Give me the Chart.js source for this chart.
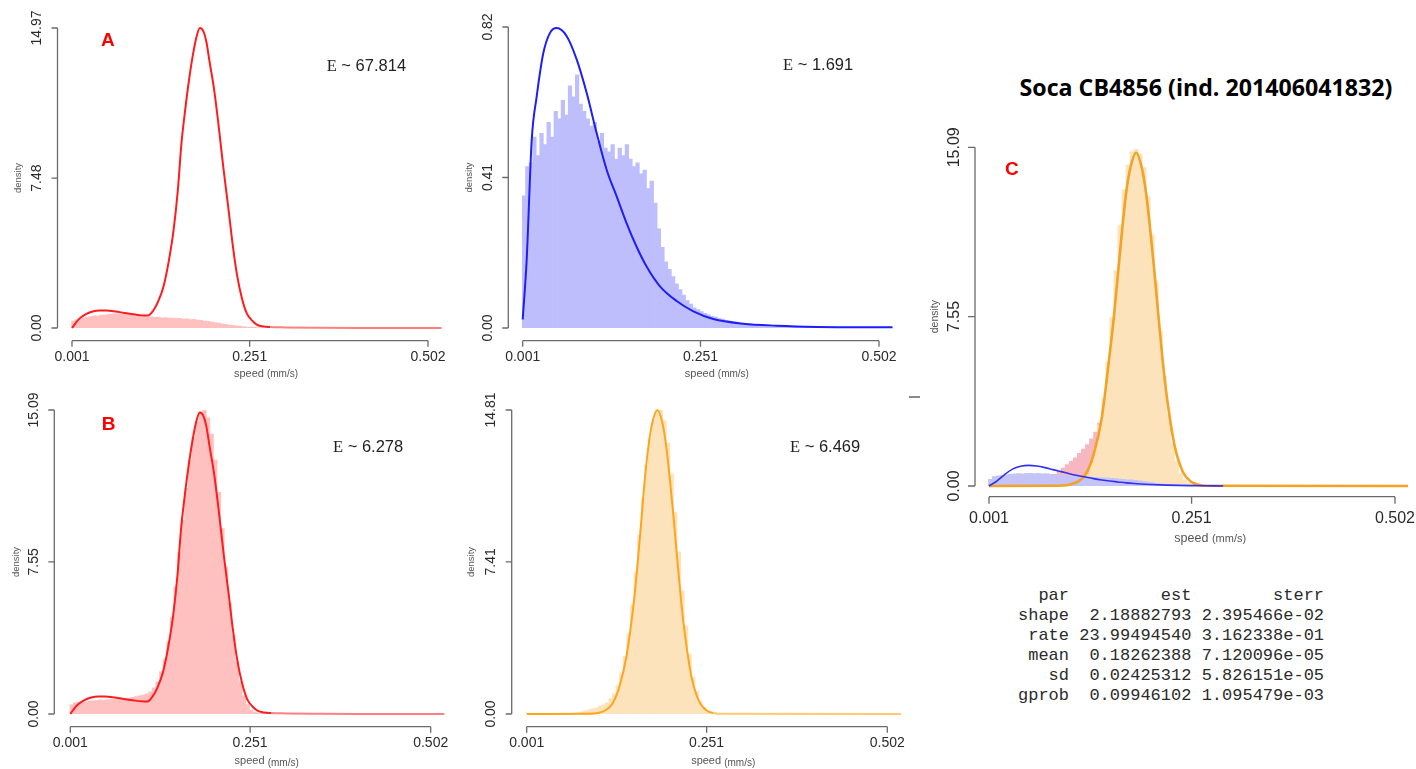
<!DOCTYPE html>
<html><head><meta charset="utf-8">
<script src="https://cdn.jsdelivr.net/npm/chart.js@4/dist/chart.umd.min.js"></script>
<style>
html,body{margin:0;padding:0;background:#fff}
body{width:1416px;height:769px;position:relative;overflow:hidden;font-family:"Liberation Sans",Arial,sans-serif}
canvas{position:absolute;left:0;top:0}
.lbl{position:absolute;color:#f00;font:bold 19px/19px "Liberation Sans",Arial,sans-serif}
.est{position:absolute;font:16.5px/16.5px "Liberation Sans",Arial,sans-serif;color:#222;white-space:nowrap}
.est .e{font-family:"Liberation Serif",serif}
#title{position:absolute;font:bold 23.2px/23px "Open Sans",sans-serif;color:#000;white-space:nowrap;transform:translateX(-50%)}
#tbl{position:absolute;left:1018px;top:586px;margin:0;font:17px/20px "Liberation Mono",monospace;color:#2b2b2b}
#dash{position:absolute;left:909px;top:396px;width:11px;height:0;border-top:2px solid #8a8a8a;z-index:5}
</style></head>
<body>
<div id="title">Soca CB4856 (ind. 201406041832)</div>
<pre id="tbl"></pre>
<div id="dash"></div>
<script>
// ---------------- data ----------------
const binWidth = 0.005;
const xTickValues = [0.001, 0.251, 0.502];
const xTickLabels = ['0.001', '0.251', '0.502'];

const yTicksA = [0, 7.48, 14.97];  const yLabelsA = ['0.00', '7.48', '14.97'];
const yTicksBlue = [0, 0.41, 0.82]; const yLabelsBlue = ['0.00', '0.41', '0.82'];
const yTicksB = [0, 7.55, 15.09];  const yLabelsB = ['0.00', '7.55', '15.09'];
const yTicksOr = [0, 7.41, 14.81]; const yLabelsOr = ['0.00', '7.41', '14.81'];
const yTicksC = [0, 7.55, 15.09];  const yLabelsC = ['0.00', '7.55', '15.09'];

const estLabels = ['67.814', '1.691', '6.278', '6.469'];
const panelLetters = ['A', 'B', 'C'];

// fitted mixture curve (red, panels A and B)
const redX = [0.001,0.01,0.02,0.03,0.04,0.05,0.06,0.07,0.08,0.09,0.10,0.108,0.115,0.122,0.13,0.137,0.144,0.15,0.155,0.16,0.165,0.171,0.176,0.181,0.186,0.19,0.195,0.201,0.207,0.214,0.221,0.227,0.233,0.24,0.247,0.255,0.262,0.27,0.28,0.30,0.35,0.40,0.45,0.50,0.521];
const redY = [0,0.42,0.68,0.82,0.87,0.87,0.83,0.78,0.72,0.67,0.63,0.62,0.85,1.3,2.1,3.3,4.9,6.9,9.2,10.8,12.2,13.6,14.5,14.97,14.8,14.3,13.2,11.9,10.2,8.0,6.0,4.2,2.7,1.5,0.73,0.35,0.15,0.08,0.05,0.03,0.01,0,0,0,0];

// gamma curve (blue, top-right panel)
const blueX = [0.001,0.0066,0.0137,0.0207,0.030,0.0394,0.0488,0.0629,0.077,0.091,0.105,0.119,0.133,0.147,0.161,0.175,0.194,0.218,0.241,0.269,0.311,0.358,0.415,0.47,0.521];
const blueY = [0.023,0.186,0.513,0.631,0.749,0.804,0.817,0.795,0.731,0.640,0.531,0.431,0.359,0.286,0.222,0.168,0.1135,0.0727,0.0454,0.0245,0.0118,0.0064,0.003,0.002,0.002];

// gaussian curve (orange, bottom-middle panel)
const orX = [0.001,0.09,0.10,0.11,0.12,0.13,0.14,0.15,0.155,0.16,0.165,0.17,0.175,0.1826,0.19,0.195,0.20,0.205,0.21,0.215,0.22,0.23,0.24,0.25,0.26,0.27,0.521];
const orY = [0,0.01,0.05,0.17,0.5,1.35,2.9,5.5,7.3,9.3,11.4,13.0,14.1,14.81,14.1,13.0,11.4,9.6,7.6,5.7,4.1,1.8,0.65,0.2,0.05,0.01,0];

// panel C curves
const cOrX = [0.001,0.08,0.10,0.11,0.12,0.13,0.14,0.15,0.155,0.16,0.165,0.17,0.175,0.1826,0.19,0.195,0.20,0.205,0.21,0.215,0.22,0.23,0.24,0.25,0.26,0.27,0.518];
const cOrY = [0,0.01,0.06,0.18,0.5,1.4,3.0,5.9,7.5,9.4,11.3,13.0,14.1,14.85,14.1,13.0,11.4,9.6,7.6,5.7,4.1,1.8,0.65,0.2,0.05,0.01,0];
const cBlueX = [0.001,0.01,0.02,0.03,0.04,0.05,0.06,0.07,0.08,0.09,0.10,0.11,0.12,0.13,0.14,0.15,0.16,0.17,0.18,0.20,0.22,0.25,0.28,0.29];
const cBlueY = [0,0.2,0.5,0.75,0.88,0.92,0.89,0.82,0.73,0.64,0.55,0.47,0.4,0.33,0.27,0.22,0.18,0.14,0.11,0.07,0.04,0.015,0.005,0];

// histograms (bin i covers [i*binWidth, (i+1)*binWidth))
const histA = [0.35,0.42,0.45,0.49,0.55,0.57,0.61,0.6,0.65,0.64,0.68,0.7,0.72,0.69,0.71,0.67,0.66,0.63,0.62,0.6,0.59,0.55,0.56,0.53,0.54,0.51,0.52,0.49,0.5,0.47,0.48,0.45,0.46,0.42,0.43,0.39,0.38,0.35,0.33,0.3,0.27,0.24,0.21,0.18,0.15,0.13,0.11,0.09,0.07,0.05,0.04,0.03,0.02,0.01];
const histBlue = [0.36,0.44,0.45,0.52,0.47,0.53,0.50,0.56,0.52,0.59,0.57,0.62,0.58,0.66,0.63,0.69,0.61,0.59,0.57,0.55,0.56,0.51,0.53,0.49,0.48,0.50,0.46,0.49,0.47,0.50,0.46,0.44,0.45,0.42,0.43,0.38,0.40,0.34,0.27,0.22,0.18,0.16,0.14,0.12,0.105,0.09,0.075,0.065,0.055,0.05,0.045,0.04,0.036,0.032,0.03,0.026,0.024,0.021,0.019,0.017,0.016,0.014,0.013,0.012,0.011,0.010,0.009,0.009,0.008,0.008,0.007,0.007,0.006,0.006,0.005,0.005,0.005,0.004,0.004,0.004,0.003,0.003,0.003,0.002,0.003,0.002,0.002,0.003,0.002,0.002,0.002,0.002,0.001,0.002,0.002,0.001,0.002,0.001,0.001,0.002,0.001,0.001,0.001,0.001];
const histB = [0.45,0.55,0.58,0.6,0.61,0.63,0.65,0.66,0.7,0.69,0.71,0.72,0.73,0.74,0.75,0.77,0.79,0.83,0.86,0.9,0.94,1.0,1.1,1.3,1.6,2.1,2.7,3.6,4.8,6.3,8.0,9.6,11.2,12.6,13.7,14.5,15.0,15.09,14.7,13.9,12.6,11.0,9.2,7.3,5.5,3.9,2.6,1.6,0.9,0.45,0.2,0.1,0.05,0.03,0.02];
const histOr = [0,0,0,0,0,0,0,0,0,0,0,0,0.02,0.04,0.06,0.1,0.15,0.2,0.25,0.3,0.38,0.45,0.55,0.75,1.0,1.4,2.0,2.8,3.9,5.3,6.9,8.7,10.5,12.1,13.4,14.3,14.8,14.81,14.3,13.2,11.7,9.8,7.9,6.0,4.3,2.9,1.8,1.1,0.6,0.3,0.15,0.08,0.04,0.02];
const histCPink = [0.3,0.4,0.42,0.44,0.45,0.46,0.47,0.48,0.48,0.49,0.5,0.5,0.5,0.5,0.5,0.5,0.52,0.65,0.8,0.95,1.1,1.25,1.45,1.65,1.85,2.1,2.4,2.8,3.3,4.0];
const histCOrange = [0,0,0,0,0,0,0,0,0,0,0,0,0,0,0,0,0,0,0,0,0,0,0.05,0.2,0.5,1.0,1.7,2.7,3.9,5.5,7.5,9.6,11.6,13.2,14.3,14.9,15.0,14.8,14.2,12.9,11.2,9.1,6.9,4.9,3.2,1.9,1.1,0.55,0.28,0.13,0.06,0.03];
const histCBlue = [0.3,0.42,0.45,0.48,0.5,0.52,0.54,0.55,0.54,0.56,0.57,0.55,0.56,0.54,0.55,0.52,0.5,0.48,0.47,0.45,0.44,0.43,0.42,0.4,0.4,0.38,0.38,0.36,0.36,0.35,0.34,0.33,0.31,0.3,0.28,0.27,0.25,0.23,0.2,0.18,0.15,0.12,0.1,0.08,0.06,0.05,0.04,0.03,0.02,0.015,0.01];

const tableHead = ['par', 'est', 'sterr'];
const tableNames = ['shape', 'rate', 'mean', 'sd', 'gprob'];
const tableEst = ['2.18882793', '23.99494540', '0.18262388', '0.02425312', '0.09946102'];
const tableSterr = ['2.395466e-02', '3.162338e-01', '7.120096e-05', '5.826151e-05', '1.095479e-03'];

// ---------------- helpers ----------------
const W = 1416, H = 769, XMAX = 0.525;

function hist(values, color, order) {
  return {
    type: 'bar',
    data: values.map((v, i) => ({x: +((i + 0.5) * binWidth).toFixed(5), y: v})),
    backgroundColor: color, borderWidth: 0, barPercentage: 1, categoryPercentage: 1,
    grouped: false, order: order
  };
}
function curve(xs, ys, color, width, order, light) {
  const ds = {
    type: 'line', data: xs.map((x, i) => ({x: x, y: ys[i]})),
    borderColor: color, borderWidth: width, pointRadius: 0, fill: false,
    cubicInterpolationMode: 'monotone', clip: false, order: order
  };
  if (light) {
    ds.segment = {borderColor: c => (c.p0.parsed.y < 0.06 && c.p1.parsed.y < 0.06 && c.p0.parsed.x > 0.24) ? light : undefined};
  }
  return ds;
}

const rAxes = {
  id: 'rAxes',
  afterDraw(chart, args, o) {
    const ctx = chart.ctx, xs = chart.scales.x, ys = chart.scales.y;
    ctx.save();
    ctx.strokeStyle = '#6a6a6a'; ctx.lineWidth = 1.3; ctx.fillStyle = '#2a2a2a';
    // x axis
    const axY = ys.getPixelForValue(0) + o.gapX;
    ctx.beginPath();
    ctx.moveTo(xs.getPixelForValue(xTickValues[0]), axY);
    ctx.lineTo(xs.getPixelForValue(xTickValues[xTickValues.length - 1]), axY);
    xTickValues.forEach(v => { const p = xs.getPixelForValue(v); ctx.moveTo(p, axY); ctx.lineTo(p, axY + o.tick); });
    ctx.stroke();
    ctx.font = o.tickFont + 'px "Liberation Sans", Arial, sans-serif';
    ctx.textAlign = 'center'; ctx.textBaseline = 'middle';
    xTickValues.forEach((v, i) => ctx.fillText(xTickLabels[i], xs.getPixelForValue(v), axY + o.xLabOff));
    // y axis
    const axX = xs.getPixelForValue(xTickValues[0]) - o.gapY;
    const yt = o.yTicks;
    ctx.beginPath();
    ctx.moveTo(axX, ys.getPixelForValue(yt[0]));
    ctx.lineTo(axX, ys.getPixelForValue(yt[yt.length - 1]));
    yt.forEach(v => { const p = ys.getPixelForValue(v); ctx.moveTo(axX, p); ctx.lineTo(axX - o.tick, p); });
    ctx.stroke();
    yt.forEach((v, i) => {
      ctx.save(); ctx.translate(axX - o.yLabOff, ys.getPixelForValue(v)); ctx.rotate(-Math.PI / 2);
      ctx.fillText(o.yLabels[i], 0, 0); ctx.restore();
    });
    // axis titles
    ctx.fillStyle = '#555';
    ctx.font = o.smallFont + 'px "Liberation Sans", Arial, sans-serif';
    const midY = (ys.getPixelForValue(yt[0]) + ys.getPixelForValue(yt[yt.length - 1])) / 2;
    ctx.save(); ctx.translate(axX - o.densOff, midY); ctx.rotate(-Math.PI / 2); ctx.fillText('density', 0, 0); ctx.restore();
    const f1 = o.titleFont + 'px "Liberation Sans", Arial, sans-serif';
    const f2 = o.subFont + 'px "Liberation Sans", Arial, sans-serif';
    ctx.font = f1; const w1 = ctx.measureText('speed ').width;
    ctx.font = f2; const w2 = ctx.measureText('(mm/s)').width;
    const cx = xs.getPixelForValue(0.274), ty = axY + o.titleOff;
    ctx.textAlign = 'left';
    ctx.font = f1; ctx.fillText('speed ', cx - (w1 + w2) / 2, ty);
    ctx.font = f2; ctx.fillText('(mm/s)', cx - (w1 + w2) / 2 + w1, ty + o.subShift);
    ctx.restore();
  }
};

function panel(p) {
  const cv = document.createElement('canvas');
  cv.width = W; cv.height = H;
  document.body.appendChild(cv);
  const unit = (p.x1px - p.x0px) / (xTickValues[2] - xTickValues[0]);
  const leftPx = p.x0px - xTickValues[0] * unit;
  const rightPx = p.x0px + (XMAX - xTickValues[0]) * unit;
  new Chart(cv, {
    type: 'bar',
    data: {datasets: p.datasets},
    options: {
      responsive: false, animation: false, events: [], devicePixelRatio: 1,
      layout: {padding: {left: leftPx, right: W - rightPx, top: p.yTopPx, bottom: H - p.yBotPx}},
      scales: {
        x: {type: 'linear', min: 0, max: XMAX, display: false, offset: false},
        y: {type: 'linear', min: 0, max: p.ymax, display: false}
      },
      plugins: {legend: {display: false}, tooltip: {enabled: false}, rAxes: p.axes}
    },
    plugins: [rAxes]
  });
}

const small = {tick: 6, tickFont: 14, xLabOff: 16.6, yLabOff: 20.6, smallFont: 9.5, titleFont: 11, subFont: 10};

const PINK = '#ffc0c0', RED = '#ff1c1c', RED_L = '#ff8080';
const LBLUE = 'rgb(190,190,252)', BLUE = '#1e1efa';
const LOR = '#fde3bb', OR = '#ffa41c', OR_L = '#ffc873';

panel({x0px: 72, x1px: 428, yTopPx: 28, yBotPx: 328, ymax: yTicksA[2],
  axes: Object.assign({}, small, {yTicks: yTicksA, yLabels: yLabelsA, gapX: 12.7, gapY: 14.5, densOff: 39.5, titleOff: 33.6, subShift: 0}),
  datasets: [hist(histA, PINK, 2), curve(redX, redY, RED, 2, 1, RED_L)]});

panel({x0px: 522.7, x1px: 879, yTopPx: 27, yBotPx: 328, ymax: yTicksBlue[2],
  axes: Object.assign({}, small, {yTicks: yTicksBlue, yLabels: yLabelsBlue, gapX: 12.7, gapY: 14.4, densOff: 39, titleOff: 33.6, subShift: 0}),
  datasets: [hist(histBlue, LBLUE, 2), curve(blueX, blueY, BLUE, 2, 1)]});

panel({x0px: 70.3, x1px: 430.7, yTopPx: 410, yBotPx: 714, ymax: yTicksB[2],
  axes: Object.assign({}, small, {yTicks: yTicksB, yLabels: yLabelsB, gapX: 12.7, gapY: 16, densOff: 37.6, titleOff: 34, subShift: 3}),
  datasets: [hist(histB, PINK, 2), curve(redX, redY, RED, 2, 1, RED_L)]});

panel({x0px: 526.7, x1px: 887.3, yTopPx: 410, yBotPx: 714, ymax: yTicksOr[2],
  axes: Object.assign({}, small, {yTicks: yTicksOr, yLabels: yLabelsOr, gapX: 12.7, gapY: 15, densOff: 40, titleOff: 34, subShift: 3}),
  datasets: [hist(histOr, LOR, 2), curve(orX, orY, OR, 2, 1, OR_L)]});

panel({x0px: 989, x1px: 1395, yTopPx: 147.3, yBotPx: 486, ymax: yTicksC[2],
  axes: {tick: 7, tickFont: 16, xLabOff: 21.6, yLabOff: 20, smallFont: 10.5, titleFont: 12.5, subFont: 11,
         yTicks: yTicksC, yLabels: yLabelsC, gapX: 10.7, gapY: 14, densOff: 40, titleOff: 42.3, subShift: 0},
  datasets: [hist(histCPink, '#f7b7c0', 5), hist(histCOrange, LOR, 4), hist(histCBlue, 'rgb(196,196,248)', 3),
             curve(cOrX, cOrY, '#f2a225', 2.6, 1), curve(cBlueX, cBlueY, '#3030f0', 1.6, 0)]});

// ---------------- text annotations ----------------
function addDiv(cls, html, left, top) {
  const d = document.createElement('div');
  d.className = cls; d.innerHTML = html;
  d.style.left = left + 'px'; d.style.top = top + 'px';
  document.body.appendChild(d);
}
const estPos = [[326.7, 56.5], [783, 56], [333, 437.5], [790, 437.5]];
estLabels.forEach((t, i) => addDiv('est', '<span class="e">E</span> ~ ' + t, estPos[i][0], estPos[i][1]));
const letterPos = [[101, 30.2], [101.7, 414.4], [1005, 159]];
panelLetters.forEach((t, i) => addDiv('lbl', t, letterPos[i][0], letterPos[i][1]));

const title = document.getElementById('title');
title.style.left = '1206px'; title.style.top = '76px';

const lines = [tableHead[0].padStart(5) + ' ' + tableHead[1].padStart(11) + ' ' + tableHead[2].padStart(12)];
tableNames.forEach((n, i) => lines.push(n.padStart(5) + ' ' + tableEst[i].padStart(11) + ' ' + tableSterr[i].padStart(12)));
document.getElementById('tbl').textContent = lines.join('\n');
</script>
</body></html>
